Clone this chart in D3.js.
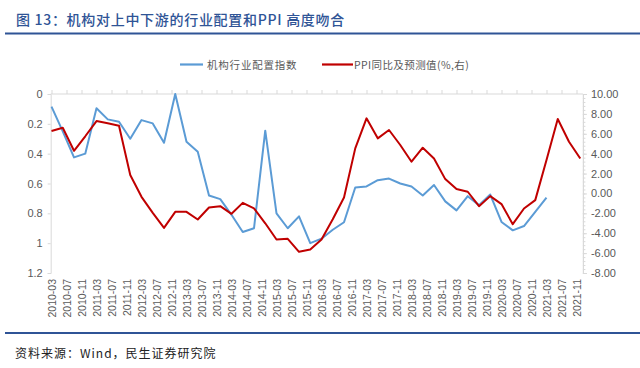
<!DOCTYPE html>
<html><head><meta charset="utf-8">
<script src="https://cdn.jsdelivr.net/npm/d3@7"></script>
<style>
html,body{margin:0;padding:0;background:#fff;}
svg{display:block;}
text{font-family:"Liberation Sans",Arial,sans-serif;}
.cjk{font-family:"Noto Sans CJK SC","Noto Sans",sans-serif;}
</style></head>
<body>
<svg id="chart" width="640" height="368"></svg>
<script>
// ---------- data ----------
const blueDates = ["2010-03","2010-06","2010-09","2010-12","2011-03","2011-06","2011-09","2011-12","2012-03","2012-06","2012-09","2012-12","2013-03","2013-06","2013-09","2013-12","2014-03","2014-06","2014-09","2014-12","2015-03","2015-06","2015-09","2015-12","2016-03","2016-06","2016-09","2016-12","2017-03","2017-06","2017-09","2017-12","2018-03","2018-06","2018-09","2018-12","2019-03","2019-06","2019-09","2019-12","2020-03","2020-06","2020-09","2020-12","2021-03"];
const blueValues = [0.085,0.25,0.425,0.40,0.096,0.17,0.186,0.30,0.175,0.197,0.327,0.0,0.32,0.387,0.68,0.705,0.81,0.925,0.90,0.246,0.80,0.90,0.82,1.0,0.97,0.91,0.86,0.627,0.62,0.578,0.567,0.60,0.62,0.68,0.61,0.72,0.78,0.685,0.745,0.674,0.858,0.914,0.885,0.79,0.694];
const redDates = blueDates.concat(["2021-06","2021-09","2021-12"]);
const redValues = [6.28,6.61,4.29,5.75,7.28,7.05,6.81,1.85,-0.34,-1.95,-3.46,-1.85,-1.85,-2.62,-1.41,-1.28,-2.05,-0.95,-1.5,-3.0,-4.63,-4.56,-5.87,-5.64,-4.63,-2.6,-0.4,4.53,7.55,5.54,6.38,4.87,3.19,4.60,3.52,1.44,0.44,0.17,-1.28,-0.27,-1.07,-3.09,-1.51,-0.67,3.36,7.48,5.2,3.52];
const xTickLabels = [];
for (let y = 2010; y <= 2021; y++) for (const m of ["03","07","11"]) xTickLabels.push(y + "-" + m);
const leftTicks = [0,0.2,0.4,0.6,0.8,1,1.2];
const rightTicks = [10,8,6,4,2,0,-2,-4,-6,-8];
const titleText = "图 13：机构对上中下游的行业配置和PPI 高度吻合";
const sourceText = "资料来源：Wind，民生证券研究院";
const legendBlue = "机构行业配置指数";
const legendRed = "PPI同比及预测值(%,右)";

// ---------- helpers ----------
const mIdx = s => { const [y,m] = s.split("-").map(Number); return (y-2010)*12 + (m-3); };
const svg = d3.select("#chart");
const BLUE = "#5B9BD5", RED = "#C00000", AX = "#D9D9D9", LBL = "#595959", TITLE = "#2F5496";

const x = d3.scaleLinear().domain([0,140]).range([51.5,576.5]);
const yL = d3.scaleLinear().domain([0,1.2]).range([94,273]);
const yR = d3.scaleLinear().domain([-8,10]).range([273,94]);
const xL = x(-0.22), xR = x(141.7);

// title
svg.append("text").attr("class","cjk").attr("x",16).attr("y",25)
  .attr("font-size",14).attr("font-weight",500).attr("fill",TITLE)
  .attr("letter-spacing",0.7).text(titleText);
svg.append("line").attr("x1",5).attr("x2",640).attr("y1",33.5).attr("y2",33.5)
  .attr("stroke",TITLE).attr("stroke-width",2);

// bottom rule + source
svg.append("line").attr("x1",5).attr("x2",640).attr("y1",333).attr("y2",333)
  .attr("stroke",TITLE).attr("stroke-width",2);
svg.append("text").attr("class","cjk").attr("x",15).attr("y",358)
  .attr("font-size",12).attr("fill","#222").attr("letter-spacing",1).text(sourceText);

// legend
const lg = svg.append("g");
lg.append("line").attr("x1",180).attr("x2",203).attr("y1",64.5).attr("y2",64.5).attr("stroke",BLUE).attr("stroke-width",2.2);
lg.append("text").attr("class","cjk").attr("x",207).attr("y",68.5).attr("font-size",10.5).attr("fill",LBL).attr("letter-spacing",0.8).text(legendBlue);
lg.append("line").attr("x1",322).attr("x2",353).attr("y1",64.5).attr("y2",64.5).attr("stroke",RED).attr("stroke-width",2.2);
lg.append("text").attr("class","cjk").attr("x",354).attr("y",68.5).attr("font-size",10.5).attr("fill",LBL).attr("letter-spacing",0.4).text(legendRed);

// left axis
const la = svg.append("g").attr("transform",`translate(${xL},0)`)
  .call(d3.axisLeft(yL).tickValues(leftTicks).tickSize(3).tickPadding(5)
    .tickFormat(d => d===0||d===1 ? String(d) : d3.format(".1f")(d)));
la.select(".domain").attr("stroke",AX);
la.selectAll(".tick line").attr("stroke",AX);
la.selectAll("text").attr("fill",LBL).attr("font-size",11).attr("font-family","Liberation Sans, Arial, sans-serif");

// right axis (minor + major)
const rMinor = d3.range(-8,10.001,0.4);
const ram = svg.append("g").attr("transform",`translate(${xR},0)`)
  .call(d3.axisRight(yR).tickValues(rMinor).tickSize(2.5).tickFormat(""));
ram.select(".domain").attr("stroke",AX);
ram.selectAll(".tick line").attr("stroke",AX);
const ra = svg.append("g").attr("transform",`translate(${xR},0)`)
  .call(d3.axisRight(yR).tickValues(rightTicks).tickSize(4).tickPadding(4).tickFormat(d3.format(".2f")));
ra.select(".domain").attr("stroke",AX);
ra.selectAll(".tick line").attr("stroke",AX);
ra.selectAll("text").attr("fill",LBL).attr("font-size",11).attr("font-family","Liberation Sans, Arial, sans-serif")
  .text(d => d3.format(".2f")(d).replace("−","-"));

// top category axis line with ticks
const topAxis = svg.append("g").attr("transform",`translate(0,${yL(0)})`)
  .call(d3.axisTop(x).tickValues(xTickLabels.map(mIdx)).tickSize(4).tickFormat(""));
topAxis.select(".domain").remove();
topAxis.selectAll(".tick line").attr("stroke",AX);
svg.append("line").attr("x1",xL).attr("x2",xR).attr("y1",yL(0)).attr("y2",yL(0)).attr("stroke",AX);

// bottom rotated labels
const bx = svg.append("g").attr("transform",`translate(0,${yL(1.2)})`)
  .call(d3.axisBottom(x).tickValues(xTickLabels.map(mIdx)).tickSize(0).tickFormat((d,i)=>xTickLabels[i]));
bx.select(".domain").remove();
bx.selectAll("text").attr("fill",LBL).attr("font-size",10.5).attr("font-family","Liberation Sans, Arial, sans-serif")
  .attr("transform","rotate(-90)").attr("text-anchor","end")
  .attr("x",-6).attr("y",0).attr("dy","0.35em");

// lines
const blueData = blueDates.map((d,i)=>({m:mIdx(d), v:blueValues[i]}));
const redData = redDates.map((d,i)=>({m:mIdx(d), v:redValues[i]}));
svg.append("path").datum(blueData).attr("fill","none").attr("stroke",BLUE).attr("stroke-width",2)
  .attr("stroke-linejoin","round")
  .attr("d", d3.line().x(d=>x(d.m)).y(d=>yL(d.v)));
svg.append("path").datum(redData).attr("fill","none").attr("stroke",RED).attr("stroke-width",2)
  .attr("stroke-linejoin","round")
  .attr("d", d3.line().x(d=>x(d.m)).y(d=>yR(d.v)));
</script>
</body></html>
